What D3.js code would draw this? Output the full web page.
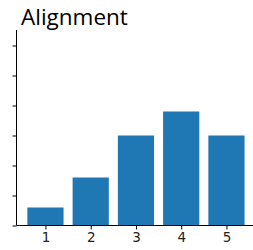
<!DOCTYPE html>
<html>
<head>
<meta charset="utf-8">
<script src="https://cdn.jsdelivr.net/npm/d3@7"></script>
<style>
  body { margin: 0; background: #fff; }
  svg { display: block; }
  .tick text { font-family: "DejaVu Sans", sans-serif; }
</style>
</head>
<body>
<div id="chart"></div>
<script>
const categories = [1, 2, 3, 4, 5];
const counts = [3, 8, 15, 19, 15];
const yTicks = [0, 5, 10, 15, 20, 25, 30];
const title = 'Alignment';

document.addEventListener('DOMContentLoaded', function () {
  const width = 253, height = 250;
  const left = 16.5, bottom = 225.5, top = 30;

  const svg = d3.select('#chart')
    .append('svg')
      .attr('width', width)
      .attr('height', height);

  // x in data units, like a plain numeric bar chart
  const x = d3.scaleLinear()
    .domain([0.36, 5.64])
    .range([left, left + 5.28 * 45.25]);
  const y = d3.scaleLinear()
    .domain([0, (bottom - top) / 6])
    .range([bottom, top]);

  svg.selectAll('.bar')
    .data(categories)
    .enter()
    .append('rect')
      .attr('class', 'bar')
      .attr('x', (d) => x(d - 0.4))
      .attr('width', x(0.8) - x(0))
      .attr('y', (d, i) => y(counts[i]))
      .attr('height', (d, i) => y(0) - y(counts[i]))
      .attr('fill', '#1f77b4');

  const xAxis = svg.append('g')
    .attr('transform', `translate(0,${bottom})`)
    .call(d3.axisBottom(x).tickValues(categories).tickSize(4).tickPadding(3).tickFormat(d3.format('d')));
  xAxis.select('.domain').attr('d', `M${left},0H${width + 10}`);
  xAxis.selectAll('.tick text').attr('font-size', 13.5).attr('fill', '#222');

  const yAxis = svg.append('g')
    .attr('transform', `translate(${left},0)`)
    .call(d3.axisLeft(y).tickValues(yTicks).tickSize(4).tickFormat(''));
  yAxis.select('.domain').attr('d', `M0,${top}V${bottom}`);

  svg.append('text')
    .attr('x', 21)
    .attr('y', 25)
    .attr('font-family', '"Open Sans", sans-serif')
    .attr('font-size', 22.5)
    .attr('fill', '#000')
    .text(title);
});
</script>
</body>
</html>
